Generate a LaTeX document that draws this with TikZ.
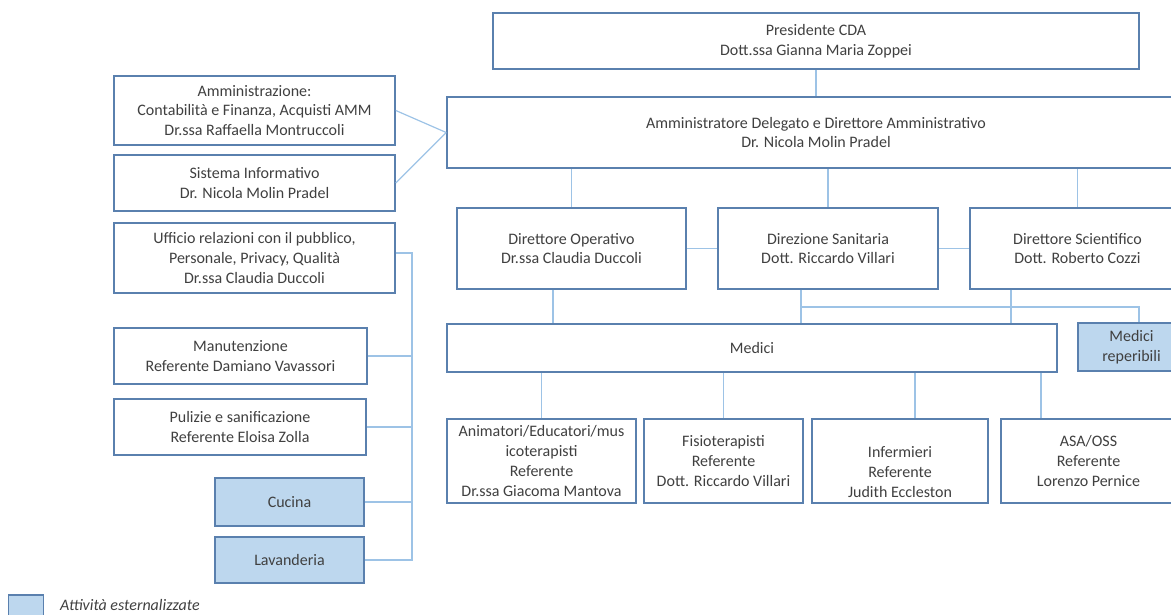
\documentclass[tikz,border=0pt]{standalone}
\usepackage{fontspec}
\setmainfont{Carlito}
\usetikzlibrary{calc}
\definecolor{bordc}{HTML}{5A80AE}
\definecolor{connc}{HTML}{9DC3E6}
\definecolor{fillc}{HTML}{BDD7EE}
\definecolor{txtc}{HTML}{404040}
\begin{document}
\begin{tikzpicture}[x=1pt,y=-1pt,
  box/.style={draw=bordc, line width=1.6pt, fill=white, align=center, text=txtc,
    font=\fontsize{16}{19.7}\selectfont, inner sep=0pt},
  extbox/.style={box, fill=fillc},
  conn/.style={draw=connc, line width=1.2pt}]
\useasboundingbox (0,0) rectangle (1171,614);
\clip (0,0) rectangle (1171,614);
% top
\node[box, minimum width=646, minimum height=56] (pres) at (816,41) {Presidente CDA\\Dott.ssa Gianna Maria Zoppei};
\node[box, minimum width=738, minimum height=71] (ad) at (816,132.5) {Amministratore Delegato e Direttore Amministrativo\\Dr. Nicola Molin Pradel};
% left column
\node[box, minimum width=281, minimum height=69] (amm) at (254.5,110.5) {Amministrazione:\\Contabilità e Finanza, Acquisti AMM\\Dr.ssa Raffaella Montruccoli};
\node[box, minimum width=281, minimum height=56] (sis) at (254.5,183) {Sistema Informativo\\Dr. Nicola Molin Pradel};
\node[box, minimum width=281, minimum height=70] (uff) at (254.5,258) {Ufficio relazioni con il pubblico,\\Personale, Privacy, Qualità\\Dr.ssa Claudia Duccoli};
\node[box, minimum width=253, minimum height=56] (man) at (240.5,356) {Manutenzione\\Referente Damiano Vavassori};
\node[box, minimum width=252, minimum height=56] (pul) at (240,427) {Pulizie e sanificazione\\Referente Eloisa Zolla};
\node[extbox, minimum width=149, minimum height=48] (cuc) at (289.5,502) {Cucina};
\node[extbox, minimum width=149, minimum height=46] (lav) at (289.5,560) {Lavanderia};
% directors
\node[box, minimum width=229, minimum height=81] (dop) at (571.5,248.5) {Direttore Operativo\\Dr.ssa Claudia Duccoli};
\node[box, minimum width=220, minimum height=81] (dsa) at (828,248.5) {Direzione Sanitaria\\Dott. Riccardo Villari};
\node[box, minimum width=215, minimum height=81] (dsc) at (1077.5,248.5) {Direttore Scientifico\\Dott. Roberto Cozzi};
% medici
\node[box, minimum width=610, minimum height=48] (med) at (752,348) {Medici};
\node[extbox, minimum width=107, minimum height=48] (mrep) at (1131.5,347) {Medici\\reperibili};
% bottom row
\node[box, minimum width=189, minimum height=84] (ani) at (541.5,461) {Animatori/Educatori/mus\\icoterapisti\\Referente\\Dr.ssa Giacoma Mantova};
\node[box, minimum width=159, minimum height=84] (fis) at (723.5,461) {Fisioterapisti\\Referente\\Dott. Riccardo Villari};
\node[box, minimum width=176, minimum height=84] (inf) at (900,461) {\strut\\Infermieri\\Referente\\Judith Eccleston};
\node[box, minimum width=175, minimum height=84] (asa) at (1088.5,461) {ASA/OSS\\Referente\\Lorenzo Pernice};
% legend
\node[extbox, minimum width=35, minimum height=26] (leg) at (26,608) {};
\node[anchor=west, text=txtc, font=\fontsize{16}{18}\itshape, inner sep=0pt] (legt) at (60,605) {Attività esternalizzate};
% connectors
\draw[conn] (pres.south) -- (ad.north);
\draw[conn] (amm.east) -- (ad.west);
\draw[conn] (sis.east) -- (ad.west);
\draw[conn] (dop.north |- ad.south) -- (dop.north);
\draw[conn] (dsa.north |- ad.south) -- (dsa.north);
\draw[conn] (dsc.north |- ad.south) -- (dsc.north);
\draw[conn] (dop.east) -- (dsa.west);
\draw[conn] (dsa.east) -- (dsc.west);
\coordinate (xa) at (553,0);
\coordinate (xb) at (801,0);
\coordinate (xc) at (1011,0);
\coordinate (xd) at (1139,307);
\draw[conn] (dop.south -| xa) -- (med.north -| xa);
\draw[conn] (dsa.south -| xb) -- (med.north -| xb);
\draw[conn] (dsc.south -| xc) -- (med.north -| xc);
\draw[conn] (xd -| xb) -- (xd) -- (mrep.north -| xd);
\coordinate (xe) at (915,0);
\coordinate (xf) at (1041,0);
\draw[conn] (med.south -| ani.north) -- (ani.north);
\draw[conn] (med.south -| fis.north) -- (fis.north);
\draw[conn] (med.south -| xe) -- (inf.north -| xe);
\draw[conn] (med.south -| xf) -- (asa.north -| xf);
\coordinate (bx) at (412,0);
\coordinate (uy) at (0,253);
\draw[conn] (uff.east |- uy) -- (bx |- uy) -- (bx |- lav.east) -- (lav.east);
\draw[conn] (man.east) -- (man.east -| bx);
\draw[conn] (pul.east) -- (pul.east -| bx);
\draw[conn] (cuc.east) -- (cuc.east -| bx);
\end{tikzpicture}
\end{document}
